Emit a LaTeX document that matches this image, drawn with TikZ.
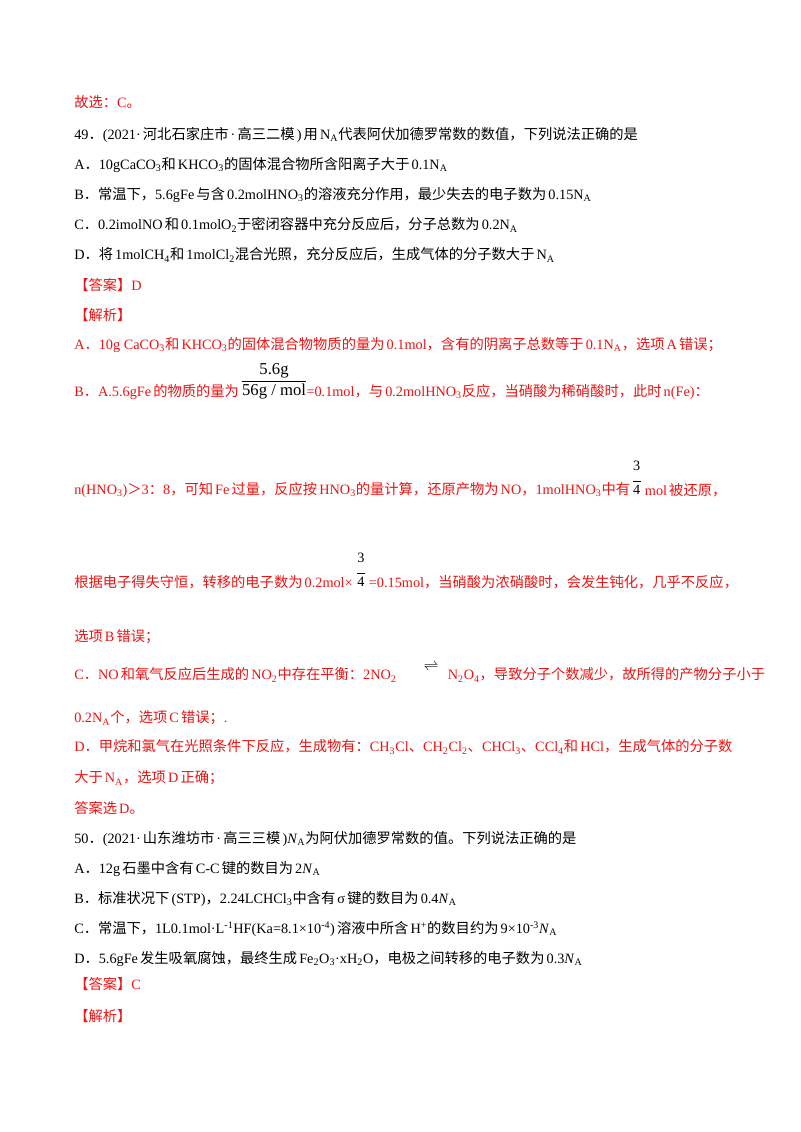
\documentclass[tikz,border=0pt]{standalone}
\usepackage{fontspec}
\setmainfont{Liberation Serif}
\newfontfamily\cjk{Noto Sans CJK SC}
\XeTeXinterchartokenstate=1
\newXeTeXintercharclass\cjkclass
\newXeTeXintercharclass\cjkpunct
\newcount\cc
\cc="4E00 \loop \XeTeXcharclass\cc=\cjkclass \advance\cc1 \ifnum\cc<"A000 \repeat
\cc="3000 \loop \XeTeXcharclass\cc=\cjkpunct \advance\cc1 \ifnum\cc<"3040 \repeat
\cc="FF00 \loop \XeTeXcharclass\cc=\cjkpunct \advance\cc1 \ifnum\cc<"FFF0 \repeat
\XeTeXinterchartoks 0 \cjkclass={\hskip0.15em\begingroup\cjk}
\XeTeXinterchartoks 4095 \cjkclass={\begingroup\cjk}
\XeTeXinterchartoks \cjkclass 0={\endgroup\hskip0.15em}
\XeTeXinterchartoks \cjkclass 4095={\endgroup}
\XeTeXinterchartoks 0 \cjkpunct={\begingroup\cjk}
\XeTeXinterchartoks 4095 \cjkpunct={\begingroup\cjk}
\XeTeXinterchartoks \cjkpunct 0={\endgroup}
\XeTeXinterchartoks \cjkpunct 4095={\endgroup}
\newcommand\ssub[1]{\textsubscript{#1}}
\newcommand\ssup[1]{\textsuperscript{#1}}
\definecolor{rd}{RGB}{235,20,20}
\tikzset{t/.style={anchor=west,inner sep=0pt,font=\fontsize{10.7}{13}\selectfont},
r/.style={t,text=rd}}
\begin{document}
\begin{tikzpicture}[x=0.75pt,y=-0.75pt]
\useasboundingbox[fill=white] (0,0) rectangle (800,1132);
\node[r] (l0) at (74,102) {故选：C。};
\node[t] (l1) at (74,135) {49．(2021·河北石家庄市·高三二模)用N\ssub{A}代表阿伏加德罗常数的数值，下列说法正确的是};
\node[t] (l2) at (74,165) {A．10gCaCO\ssub{3}和KHCO\ssub{3}的固体混合物所含阳离子大于0.1N\ssub{A}};
\node[t] (l3) at (74,195) {B．常温下，5.6gFe与含0.2molHNO\ssub{3}的溶液充分作用，最少失去的电子数为0.15N\ssub{A}};
\node[t] (l4) at (74,225) {C．0.2imolNO和0.1molO\ssub{2}于密闭容器中充分反应后，分子总数为0.2N\ssub{A}};
\node[t] (l5) at (74,255) {D．将1molCH\ssub{4}和1molCl\ssub{2}混合光照，充分反应后，生成气体的分子数大于N\ssub{A}};
\node[r] (l6) at (74,285) {【答案】D};
\node[r] (l7) at (74,315) {【解析】};
\node[r] (l8) at (74,345) {A．10g CaCO\ssub{3}和KHCO\ssub{3}的固体混合物物质的量为0.1mol，含有的阴离子总数等于0.1N\ssub{A}，选项A错误；};
\node[r] (l9) at (74,392) {B．A.5.6gFe的物质的量为};
\node[t,font=\fontsize{12.5}{14}\selectfont] (f1d) at ([xshift=2pt]l9.east) {56g / mol};
\draw ([yshift=2.5pt]f1d.north west) -- ([yshift=2.5pt]f1d.north east);
\node[t,font=\fontsize{12.5}{14}\selectfont,anchor=south] (f1n) at ([yshift=4.5pt]f1d.north) {5.6g};
\node[r] (l9b) at (f1d.east) {=0.1mol，与0.2molHNO\ssub{3}反应，当硝酸为稀硝酸时，此时n(Fe)：};
\node[r] (l10) at (74,490) {n(HNO\ssub{3})＞3：8，可知Fe过量，反应按HNO\ssub{3}的量计算，还原产物为NO，1molHNO\ssub{3}中有};
\node[t] (f2d) at ([xshift=2pt]l10.east) {4};
\node[t] (f2n) at ([yshift=18pt]f2d.west) {3};
\draw ([yshift=2.5pt]f2d.north west) -- ([yshift=2.5pt]f2d.north east);
\node[r] (l10b) at ([xshift=3pt]f2d.east) {mol被还原，};
\node[r] (l11) at (74,582) {根据电子得失守恒，转移的电子数为0.2mol×};
\node[t] (f3d) at ([xshift=3pt]l11.east) {4};
\node[t] (f3n) at ([yshift=18pt]f3d.west) {3};
\draw ([yshift=2.5pt]f3d.north west) -- ([yshift=2.5pt]f3d.north east);
\node[r] (l11b) at ([xshift=3pt]f3d.east) {=0.15mol，当硝酸为浓硝酸时，会发生钝化，几乎不反应，};
\node[r] (l12) at (74,637) {选项B错误；};
\node[r] (l13) at (74,675) {C．NO和氧气反应后生成的NO\ssub{2}中存在平衡：2NO\ssub{2}};
\node[t,anchor=south west] (eq) at ([xshift=20pt,yshift=3pt]l13.east) {$\rightleftharpoons$};
\node[r] (l13b) at ([xshift=38pt]l13.east) {N\ssub{2}O\ssub{4}，导致分子个数减少，故所得的产物分子小于};
\node[r] (l14) at (74,718) {0.2N\ssub{A}个，选项C错误；.};
\node[r] (l15) at (74,747) {D．甲烷和氯气在光照条件下反应，生成物有：CH\ssub{3}Cl、CH\ssub{2}Cl\ssub{2}、CHCl\ssub{3}、CCl\ssub{4}和HCl，生成气体的分子数};
\node[r] (l16) at (74,778) {大于N\ssub{A}，选项D正确；};
\node[r] (l17) at (74,808) {答案选D。};
\node[t] (m1) at (74,839) {50．(2021·山东潍坊市·高三三模)\textit{N}\ssub{A}为阿伏加德罗常数的值。下列说法正确的是};
\node[t] (m2) at (74,869) {A．12g石墨中含有C-C键的数目为2\textit{N}\ssub{A}};
\node[t] (m3) at (74,899) {B．标准状况下(STP)，2.24LCHCl\ssub{3}中含有σ键的数目为0.4\textit{N}\ssub{A}};
\node[t] (m4) at (74,929) {C．常温下，1L0.1mol·L\ssup{-1}HF(Ka=8.1×10\ssup{-4})溶液中所含H\ssup{+}的数目约为9×10\ssup{-3}\textit{N}\ssub{A}};
\node[t] (m5) at (74,959) {D．5.6gFe发生吸氧腐蚀，最终生成Fe\ssub{2}O\ssub{3}·xH\ssub{2}O，电极之间转移的电子数为0.3\textit{N}\ssub{A}};
\node[r] (m6) at (74,984) {【答案】C};
\node[r] (m7) at (74,1016) {【解析】};
\end{tikzpicture}
\end{document}
